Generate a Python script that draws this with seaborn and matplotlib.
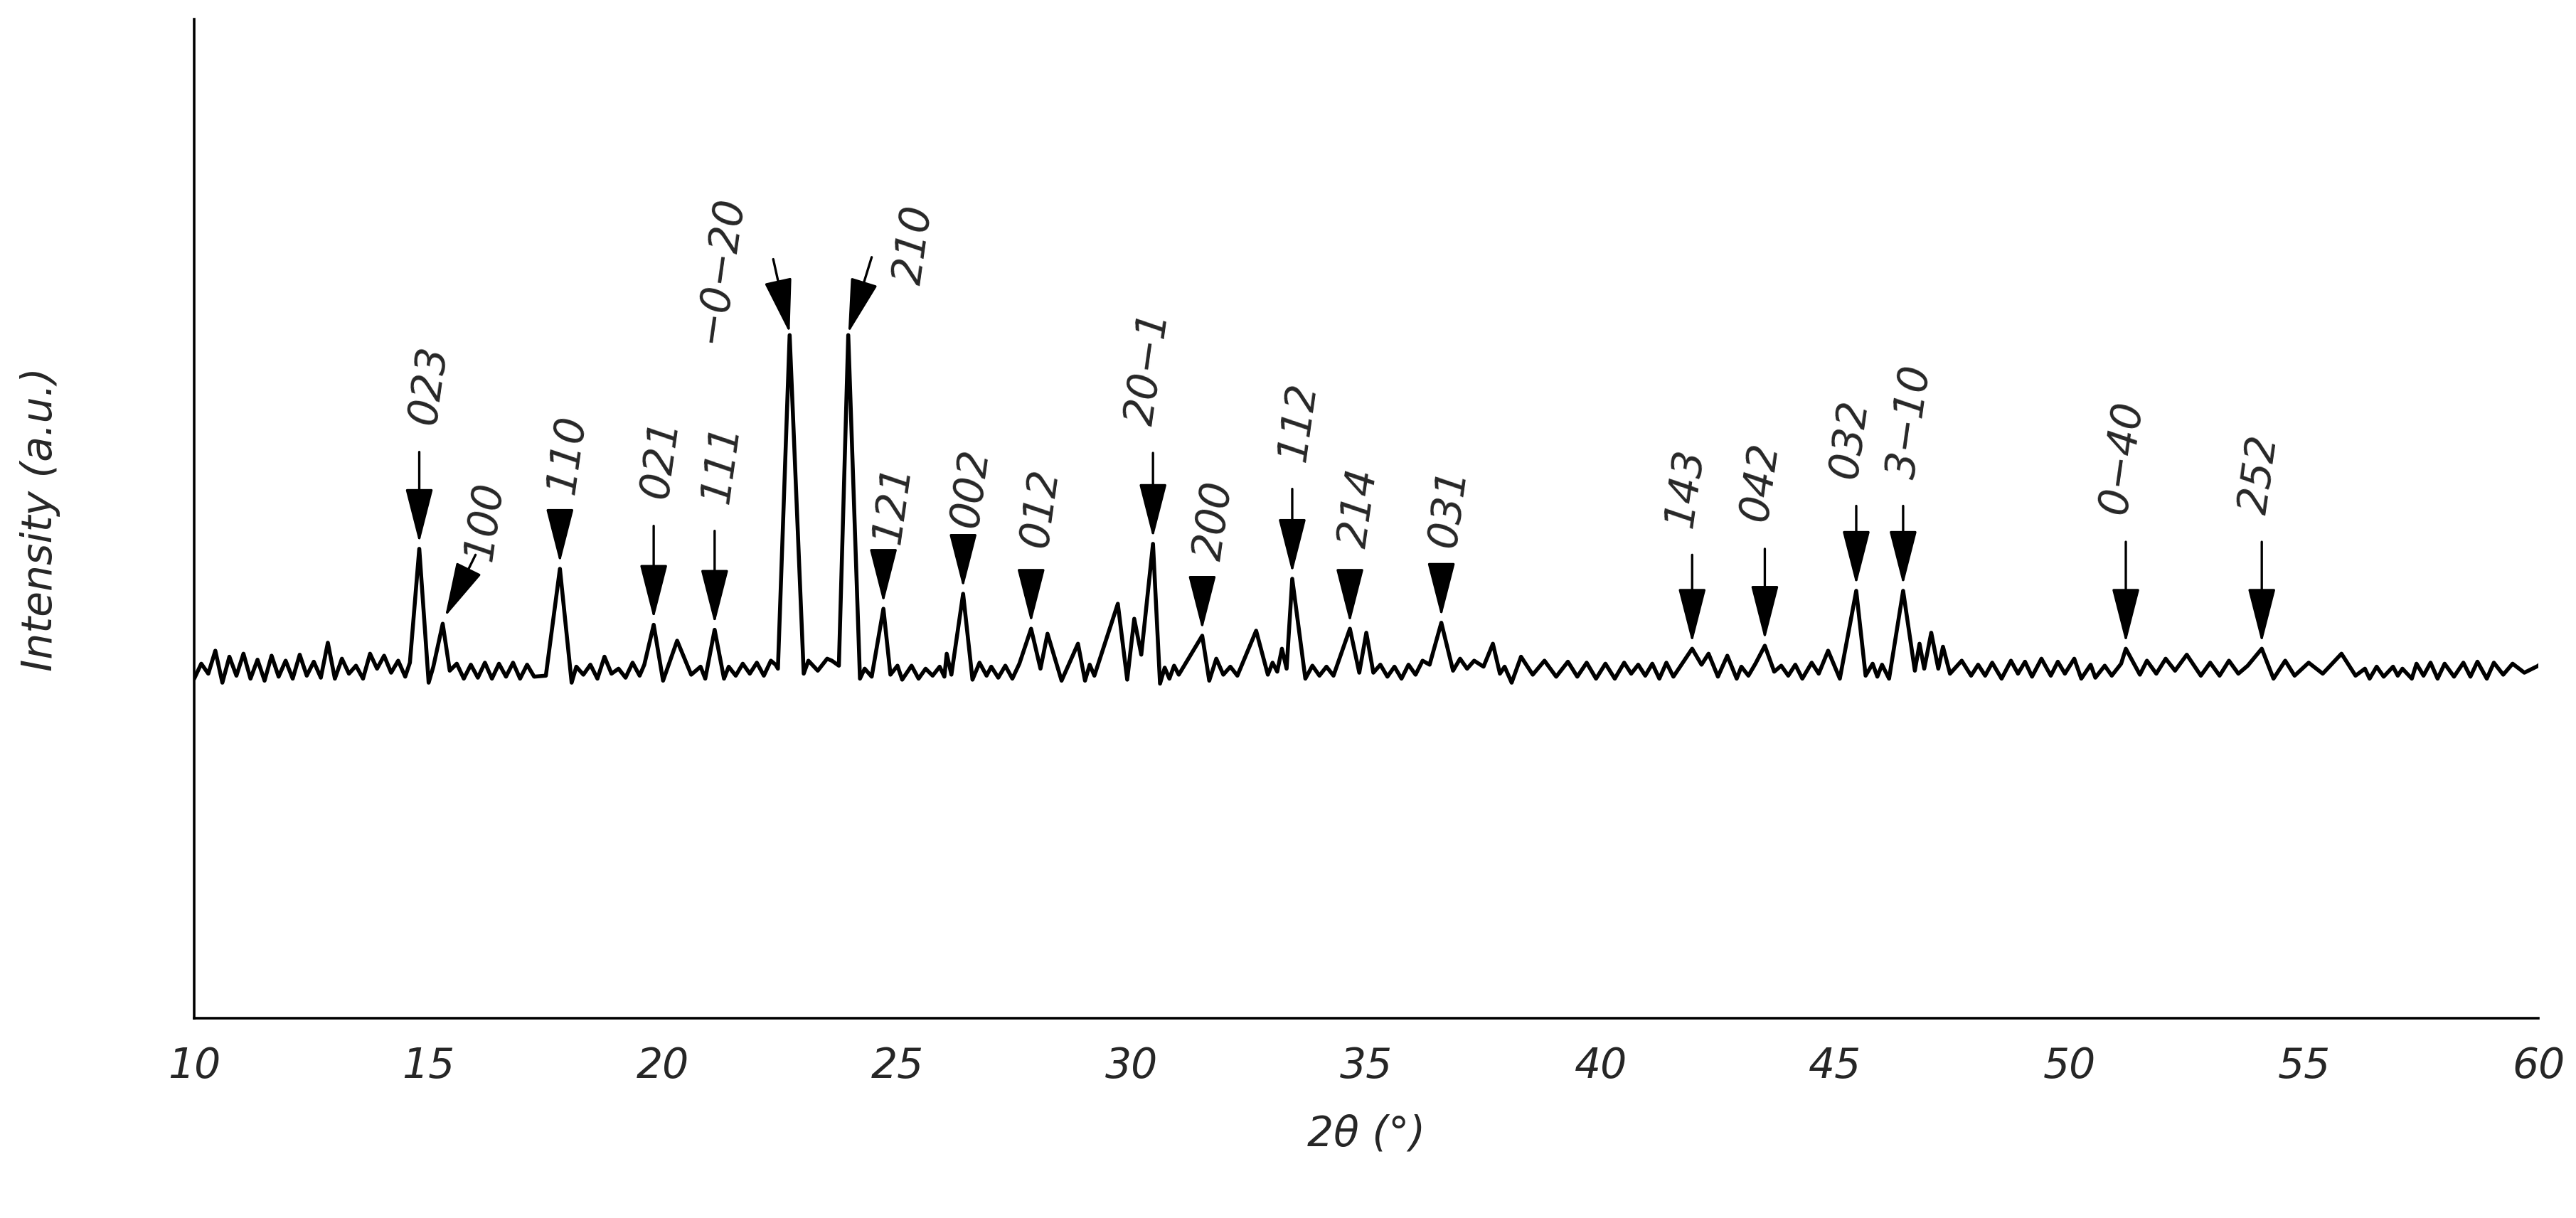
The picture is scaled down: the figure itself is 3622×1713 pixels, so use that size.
import matplotlib
matplotlib.use("Agg")
import matplotlib.pyplot as plt
import seaborn as sns
import pandas as pd

two_theta = [10.0,10.15,10.3,10.45,10.6,10.75,10.9,11.05,11.2,11.35,11.5,11.65,11.8,11.95,12.1,12.25,12.4,12.55,12.7,12.85,
13.0,13.15,13.3,13.45,13.6,13.75,13.9,14.05,14.2,14.35,14.5,14.6,14.8,15.0,15.1,15.3,15.45,15.6,15.75,15.9,
16.05,16.2,16.35,16.5,16.65,16.8,16.95,17.1,17.25,17.5,17.8,18.05,18.15,18.3,18.45,18.6,18.75,18.9,19.05,19.2,
19.35,19.5,19.6,19.8,20.0,20.3,20.6,20.8,20.9,21.1,21.3,21.4,21.55,21.7,21.85,22.0,22.15,22.3,22.4,22.45,
22.7,23.0,23.1,23.3,23.5,23.6,23.75,23.95,24.2,24.3,24.45,24.7,24.85,25.0,25.1,25.3,25.45,25.6,25.75,25.9,
26.0,26.05,26.15,26.4,26.6,26.75,26.9,27.0,27.15,27.3,27.45,27.6,27.85,28.05,28.2,28.5,28.85,29.0,29.1,29.2,
29.7,29.9,30.05,30.2,30.45,30.6,30.7,30.8,30.9,31.0,31.5,31.65,31.8,31.95,32.1,32.25,32.65,32.9,33.0,33.1,
33.2,33.3,33.42,33.7,33.85,34.0,34.15,34.3,34.65,34.85,35.0,35.15,35.3,35.45,35.6,35.75,35.9,36.05,36.2,36.35,
36.6,36.85,37.0,37.15,37.3,37.5,37.7,37.85,37.95,38.1,38.3,38.55,38.8,39.05,39.3,39.5,39.7,39.9,40.1,40.3,
40.5,40.65,40.8,40.95,41.1,41.25,41.4,41.55,41.75,41.95,42.15,42.3,42.5,42.7,42.9,43.0,43.15,43.3,43.5,43.7,
43.85,44.0,44.15,44.3,44.5,44.65,44.85,45.1,45.45,45.65,45.8,45.9,46.0,46.15,46.45,46.7,46.8,46.9,47.05,47.2,
47.3,47.45,47.7,47.9,48.05,48.2,48.35,48.55,48.75,48.9,49.05,49.2,49.4,49.6,49.75,49.9,50.1,50.25,50.45,50.55,
50.75,50.9,51.1,51.2,51.5,51.65,51.85,52.05,52.25,52.5,52.8,53.0,53.2,53.4,53.6,53.8,54.1,54.35,54.6,54.8,
55.1,55.4,55.8,56.1,56.3,56.4,56.55,56.7,56.9,57.0,57.1,57.3,57.4,57.55,57.7,57.85,58.0,58.2,58.4,58.55,
58.7,58.9,59.05,59.25,59.45,59.7,60.0,60.2]

intensity = [34.0,35.5,34.5,36.8,33.6,36.2,34.3,36.5,34.0,35.9,33.8,36.3,34.2,35.8,34.0,36.4,34.3,35.7,34.1,37.6,
34.0,36.0,34.5,35.3,34.0,36.5,35.0,36.3,34.6,35.8,34.2,35.6,47.0,33.6,35.2,39.5,34.8,35.5,34.0,35.4,
34.1,35.6,34.0,35.5,34.2,35.6,34.0,35.4,34.2,34.3,45.0,33.6,35.2,34.4,35.4,34.0,36.2,34.5,35.0,34.1,
35.6,34.3,35.4,39.4,33.8,37.8,34.4,35.2,34.0,38.9,34.0,35.2,34.3,35.5,34.5,35.6,34.3,35.8,35.4,35.0,
68.4,34.5,35.8,34.8,36.0,35.8,35.3,68.4,34.0,35.0,34.2,41.0,34.4,35.3,33.9,35.3,34.0,35.0,34.3,35.2,
34.2,36.5,34.4,42.5,33.9,35.6,34.3,35.2,34.1,35.3,34.0,35.5,39.0,35.0,38.5,33.8,37.5,33.8,35.4,34.3,
41.5,33.9,40.0,36.4,47.5,33.5,35.1,34.0,35.3,34.4,38.3,33.8,36.0,34.4,35.2,34.3,38.8,34.4,35.6,34.7,
37.0,35.0,44.0,34.0,35.3,34.3,35.2,34.3,39.0,34.6,38.6,34.6,35.4,34.2,35.2,34.0,35.4,34.4,35.8,35.4,
39.6,34.8,36.0,35.0,35.8,35.2,37.5,34.5,35.2,33.6,36.2,34.4,35.8,34.2,35.7,34.2,35.6,34.0,35.5,34.0,
35.6,34.5,35.4,34.3,35.5,34.0,35.6,34.2,35.6,37.0,35.4,36.5,34.2,36.3,34.0,35.2,34.3,35.5,37.3,34.7,
35.3,34.3,35.4,34.0,35.6,34.5,36.8,34.0,42.8,34.3,35.5,34.2,35.4,34.0,42.8,34.8,37.5,35.0,38.6,35.0,
37.2,34.5,35.8,34.3,35.4,34.3,35.6,34.0,35.8,34.5,35.7,34.2,36.0,34.3,35.7,34.5,36.0,34.0,35.4,34.1,
35.3,34.3,35.5,37.0,34.4,35.8,34.5,36.0,34.8,36.4,34.3,35.6,34.3,35.8,34.5,35.3,37.0,34.0,35.8,34.3,
35.6,34.5,36.5,34.3,35.0,34.0,35.2,34.2,35.2,34.3,35.0,34.0,35.5,34.3,35.6,34.0,35.5,34.2,35.6,34.2,
35.7,34.0,35.6,34.4,35.5,34.6,35.3,36.3]

# reflection labels
hkl = ["023","100","110","021","111","\u22120\u221220","210","121","002","012","20\u22121","200",
       "112","214","031","143","042","032","3\u221210","0\u221240","252"]
peak_x = [14.8,15.35,17.8,19.8,21.1,22.7,23.95,24.7,26.4,27.85,30.45,31.5,33.42,34.65,36.6,
          41.95,43.5,45.45,46.45,51.2,54.1]
head_y = [47.6,40.2,45.6,40.0,39.5,68.6,68.6,41.6,43.1,39.6,48.1,38.9,44.6,39.6,40.2,
          37.6,37.9,43.4,43.4,37.6,37.6]
tail_x = [14.8,16.0,17.8,19.8,21.1,22.35,24.45,24.7,26.4,27.85,30.45,31.5,33.42,34.65,36.6,
          41.95,43.5,45.45,46.45,51.2,54.1]
tail_y = [56.7,46.4,49.7,49.3,48.8,76.0,76.2,44.7,46.4,44.4,56.6,43.1,53.0,44.4,44.4,
          46.4,47.0,51.3,51.3,47.7,47.7]
label_x = [15.0,16.2,17.95,19.95,21.25,21.2,25.35,24.9,26.55,28.05,30.35,31.75,33.55,34.85,36.75,
           41.8,43.4,45.3,46.6,51.1,54.05]
label_bottom = [59.2,45.5,52.2,51.8,51.3,67.4,73.2,47.2,48.9,46.9,59.1,45.6,55.5,46.9,46.9,
                48.9,49.5,53.8,53.8,50.2,50.2]

sns.set_style("white")
plt.rcParams["font.family"] = ["DejaVu Sans"]

fig = plt.figure(figsize=(18.11, 8.565), dpi=200)
ax = fig.add_axes([0.0754, 0.164, 0.910, 0.82])
df = pd.DataFrame({"two_theta": two_theta, "intensity": intensity})
sns.lineplot(data=df, x="two_theta", y="intensity", ax=ax, color="black", linewidth=2.0, sort=False)

for name, px, hy, tx, ty, lx, ly in zip(hkl, peak_x, head_y, tail_x, tail_y, label_x, label_bottom):
    ax.annotate("", xy=(px, hy), xytext=(tx, ty),
                arrowprops=dict(arrowstyle="-|>,head_length=1.1,head_width=0.28",
                                mutation_scale=22, color="black", lw=1.2, shrinkA=0, shrinkB=0))
    ax.text(lx, ly, name, rotation=82, ha="center", va="bottom", fontsize=21,
            fontstyle="italic", rotation_mode="default")

ax.set_xlim(10, 60)
ax.set_ylim(0, 100)
ax.set_xticks(range(10, 61, 5))
ax.set_xticklabels([str(v) for v in range(10, 61, 5)], fontstyle="italic", fontsize=21)
ax.set_yticks([])
ax.tick_params(axis="x", length=0, pad=14)
for s in ["top", "right"]:
    ax.spines[s].set_visible(False)
for s in ["left", "bottom"]:
    ax.spines[s].set_linewidth(1.3)
    ax.spines[s].set_color("black")
ax.set_xlabel("2\u03b8 (\u00b0)", fontsize=21, fontstyle="italic", labelpad=14)
ax.set_ylabel("Intensity (a.u.)", fontsize=21, fontstyle="italic")
ax.yaxis.set_label_coords(-0.057, 0.5)
fig.savefig("out.png", dpi=200)
